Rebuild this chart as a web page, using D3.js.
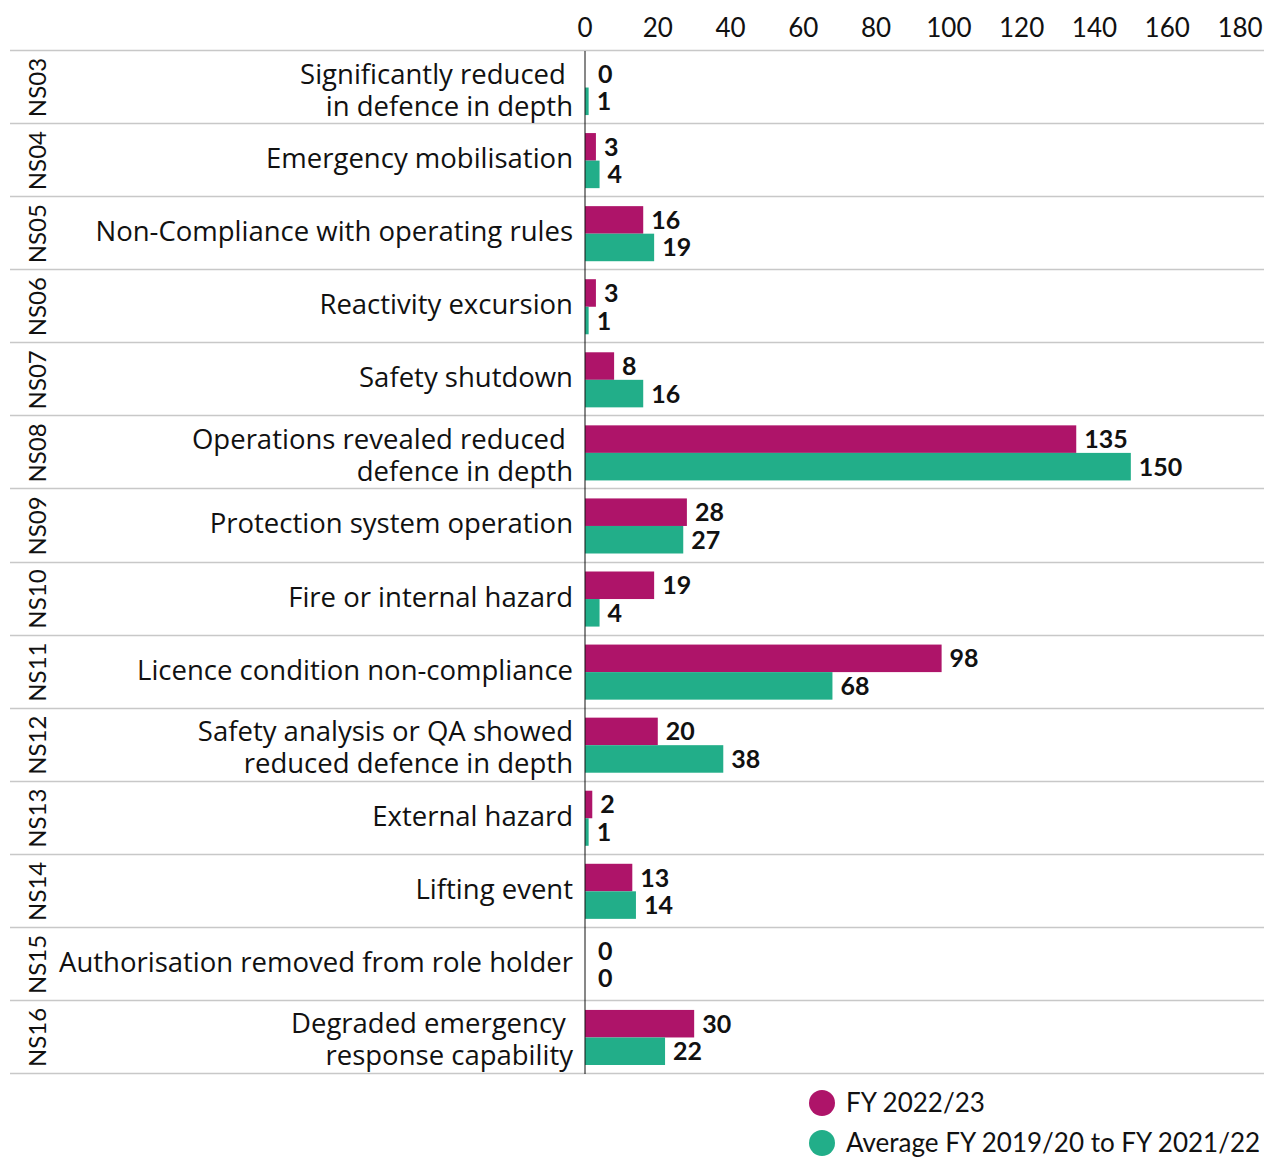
<!DOCTYPE html>
<html>
<head>
<meta charset="utf-8">
<script src="https://cdn.jsdelivr.net/npm/d3@7"></script>
<style>
  body { margin: 0; background: #fff; }
  text { font-family: Lato, "Open Sans", sans-serif; fill: #111; }
  text.cat { font-family: "Open Sans", Lato, sans-serif; }
</style>
</head>
<body>
<svg id="chart" width="1266" height="1157"></svg>
<script>
// chart data
var codes = ["NS03","NS04","NS05","NS06","NS07","NS08","NS09","NS10","NS11","NS12","NS13","NS14","NS15","NS16"];
var labels = [
  ["Significantly reduced ", "in defence in depth"],
  ["Emergency mobilisation"],
  ["Non-Compliance with operating rules"],
  ["Reactivity excursion"],
  ["Safety shutdown"],
  ["Operations revealed reduced ", "defence in depth"],
  ["Protection system operation"],
  ["Fire or internal hazard"],
  ["Licence condition non-compliance"],
  ["Safety analysis or QA showed", "reduced defence in depth"],
  ["External hazard"],
  ["Lifting event"],
  ["Authorisation removed from role holder"],
  ["Degraded emergency ", "response capability"]
];
var fy2223 = [0, 3, 16, 3, 8, 135, 28, 19, 98, 20, 2, 13, 0, 30];
var avg3yr = [1, 4, 19, 1, 16, 150, 27, 4, 68, 38, 1, 14, 0, 22];
var seriesNames = ["FY 2022/23", "Average FY 2019/20 to FY 2021/22"];
var seriesColors = ["#ae1469", "#22ae89"];
var xTicks = [0, 20, 40, 60, 80, 100, 120, 140, 160, 180];

function drawChart()
{
  var svg = d3.select("#chart");

  var x = d3.scaleLinear().domain([0, 180]).range([585, 1240]);
  var y = d3.scaleBand().domain(codes).range([51, 1074]).paddingInner(0).paddingOuter(0);
  var ySub = d3.scaleBand().domain([0, 1]).range([9, y.bandwidth() - 9]).padding(0);

  // top axis tick labels
  svg.append("g").selectAll("text")
    .data(xTicks)
    .enter().append("text")
      .attr("x", function(d) { return x(d); })
      .attr("y", 37)
      .attr("text-anchor", "middle")
      .style("font-size", "26px")
      .text(function(d) { return d; });

  // row separators
  var seps = codes.map(function(c) { return y(c); }).concat([y.range()[1]]);
  svg.append("g").selectAll("line")
    .data(seps)
    .enter().append("line")
      .attr("x1", 10).attr("x2", 1264)
      .attr("y1", function(d) { return Math.round(d) - 0.5; })
      .attr("y2", function(d) { return Math.round(d) - 0.5; })
      .style("stroke", "#c8c8c8")
      .style("stroke-width", "1.5px");

  var rows = svg.append("g").selectAll("g.row")
    .data(codes)
    .enter().append("g")
      .attr("class", "row")
      .attr("transform", function(d) { return "translate(0," + y(d) + ")"; });

  // rotated codes
  rows.append("text")
    .attr("transform", "translate(46," + (y.bandwidth() / 2) + ") rotate(-90)")
    .attr("text-anchor", "middle")
    .style("font-size", "24px")
    .text(function(d) { return d; });

  // category labels
  rows.append("text")
    .attr("class", "cat")
    .attr("text-anchor", "end")
    .style("font-size", "27.5px")
    .style("white-space", "pre")
    .each(function(d, i) {
      var lines = labels[i];
      var t = d3.select(this);
      var lh = 32;
      var start = y.bandwidth() / 2 - (lines.length - 1) * lh / 2 + (lines.length > 1 ? 12 : 7.5);
      lines.forEach(function(l, j) {
        t.append("tspan")
          .attr("x", 573)
          .attr("y", start + j * lh)
          .text(l);
      });
    });

  // bars
  var series = [fy2223, avg3yr];
  series.forEach(function(vals, s) {
    rows.append("rect")
      .attr("x", x(0))
      .attr("y", ySub(s))
      .attr("width", function(d, i) { return x(vals[i]) - x(0); })
      .attr("height", ySub.bandwidth())
      .style("fill", seriesColors[s]);

    rows.append("text")
      .attr("x", function(d, i) { return x(vals[i]) + (vals[i] === 0 ? 13 : 8); })
      .attr("y", ySub(s) + ySub.bandwidth() / 2 + 9)
      .style("font-size", "25px")
      .style("font-weight", "bold")
      .text(function(d, i) { return vals[i]; });
  });

  // zero axis line
  svg.append("line")
    .attr("x1", x(0)).attr("x2", x(0))
    .attr("y1", 51).attr("y2", 1074)
    .style("stroke", "#111")
    .style("stroke-width", "1px");

  // legend
  var leg = svg.append("g").selectAll("g")
    .data(seriesNames)
    .enter().append("g")
      .attr("transform", function(d, i) { return "translate(822," + (1103 + i * 40) + ")"; });
  leg.append("circle")
    .attr("r", 13)
    .style("fill", function(d, i) { return seriesColors[i]; });
  leg.append("text")
    .attr("x", 24)
    .attr("y", 9)
    .style("font-size", "26px")
    .text(function(d) { return d; });
}

drawChart();
</script>
</body>
</html>
